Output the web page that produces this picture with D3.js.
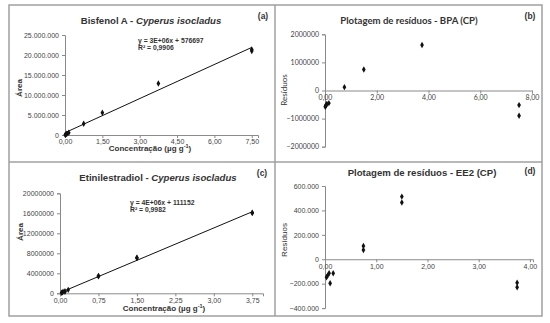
<!DOCTYPE html>
<html>
<head>
<script src="https://d3js.org/d3.v7.min.js"></script>
<style>
  body { margin: 0; background: #fff; }
  text { font-family: "Liberation Sans", Arial, sans-serif; }
  .tick-lbl { font-size: 7px; fill: #444; }
  .calibri { font-family: Lato, "Open Sans", sans-serif; }
</style>
</head>
<body>
<script>
// ---- data ----
var bpaConc  = [0.01, 0.025, 0.05, 0.075, 0.15, 0.75, 1.5, 3.75, 7.5, 7.5];
var bpaArea  = [25000, 98000, 219000, 310000, 553000, 2830000, 5590000, 12860000, 21380000, 21000000];
var bpaResid = [-580000, -550000, -500000, -480000, -450000, 120000, 750000, 1620000, -520000, -900000];
var bpaTrendX = [0, 7.5];
var bpaTrendY = [576697, 21900000];

var ee2Conc  = [0.03, 0.05, 0.08, 0.1, 0.16, 0.75, 0.75, 1.5, 1.5, 3.75, 3.75];
var ee2Area  = [93000, 193000, 342000, 346000, 687000, 3460000, 3427000, 7104000, 7056000, 16119000, 16081000];
var ee2Resid = [-148000, -134000, -115000, -197000, -115000, 109000, 76000, 513000, 465000, -192000, -230000];
var ee2TrendX = [0, 3.75];
var ee2TrendY = [111152, 16310000];

var xTicksA = [0, 1.5, 3, 4.5, 6, 7.5];
var yTicksA = [0, 5e6, 10e6, 15e6, 20e6, 25e6];
var xTicksB = [0, 2, 4, 6, 8];
var yTicksB = [-2e6, -1e6, 0, 1e6, 2e6];
var xTicksC = [0, 0.75, 1.5, 2.25, 3, 3.75];
var yTicksC = [0, 4e6, 8e6, 12e6, 16e6, 20e6];
var xTicksD = [0, 1, 2, 3, 4];
var yTicksD = [-4e5, -2e5, 0, 2e5, 4e5, 6e5];

var svg = d3.select("body").append("svg")
    .attr("width", 550)
    .attr("height", 323);

// panel frame
var frame = svg.append("g").attr("fill", "none").attr("stroke", "#a0a0a0").attr("stroke-width", 1.5);
frame.append("rect").attr("x", 9).attr("y", 5).attr("width", 533).attr("height", 311);
frame.append("line").attr("x1", 275).attr("x2", 275).attr("y1", 5).attr("y2", 316);
frame.append("line").attr("x1", 9).attr("x2", 542).attr("y1", 162).attr("y2", 162);

var comma = function(d) { return d3.format(".2f")(d).replace(".", ","); };
var dotted = function(d) { return d3.format(",")(d).replace(/,/g, "."); };
var plain = function(d) { return d3.format("d")(d); };

function panel(o) {
    var g = svg.append("g");
    var x = d3.scaleLinear().domain(o.xDom).range(o.xRange);
    var y = d3.scaleLinear().domain(o.yDom).range(o.yRange);
    var y0 = o.xAtZero ? y(0) : o.yRange[0];

    // y axis
    var ya = g.append("g")
        .attr("transform", "translate(" + o.xRange[0] + ",0)")
        .call(d3.axisLeft(y).tickValues(o.yTicks).tickFormat(o.yFmt).tickSize(3).tickPadding(3));
    // x axis
    var xa = g.append("g")
        .attr("transform", "translate(0," + y0 + ")")
        .call(d3.axisBottom(x).tickValues(o.xTicks).tickFormat(comma).tickSize(3).tickPadding(1.5));
    [ya, xa].forEach(function(a) {
        a.select(".domain").attr("stroke", "#8a8a8a");
        a.selectAll(".tick line").attr("stroke", "#8a8a8a");
        a.selectAll("text").attr("class", "tick-lbl " + (o.cls || ""));
    });

    if (o.trendX) {
        g.append("path")
            .attr("d", d3.line()(o.trendX.map(function(v, i) { return [x(v), y(o.trendY[i])]; })))
            .attr("stroke", "#111").attr("stroke-width", 1).attr("fill", "none");
    }

    g.selectAll(".pt").data(o.xs).enter().append("path")
        .attr("class", "pt")
        .attr("transform", function(d, i) { return "translate(" + x(d) + "," + y(o.ys[i]) + ")"; })
        .attr("d", d3.symbol().type(d3.symbolDiamond).size(12))
        .attr("fill", "#111");

    // titles
    var t = g.append("text")
        .attr("x", o.title[0]).attr("y", o.title[1])
        .attr("text-anchor", "middle")
        .attr("class", o.cls || "")
        .attr("font-size", 9.6).attr("font-weight", "bold").attr("fill", "#333");
    t.append("tspan").text(o.titleText);
    if (o.titleItalic) t.append("tspan").attr("font-style", "italic").text(o.titleItalic);

    g.append("text")
        .attr("x", o.tag[0]).attr("y", o.tag[1])
        .attr("text-anchor", "middle")
        .attr("font-size", 8.5).attr("font-weight", "bold").attr("fill", "#333")
        .text(o.tagText);

    g.append("text")
        .attr("transform", "translate(" + o.yLab[0] + "," + o.yLab[1] + ") rotate(-90)")
        .attr("text-anchor", "middle")
        .attr("class", o.cls || "")
        .attr("font-size", 8).attr("font-weight", o.xLab ? "bold" : "normal").attr("fill", "#333")
        .text(o.yLabText);

    if (o.xLab) {
        var xl = g.append("text")
            .attr("x", o.xLab[0]).attr("y", o.xLab[1])
            .attr("text-anchor", "middle")
            .attr("font-size", 8).attr("font-weight", "bold").attr("fill", "#333");
        xl.append("tspan").text("Concentração (µg g");
        xl.append("tspan").attr("font-size", 5.5).attr("dy", -3).text("-1");
        xl.append("tspan").attr("dy", 3).text(")");
    }

    if (o.eq) {
        o.eq.forEach(function(line, i) {
            g.append("text")
                .attr("x", o.eqPos[0]).attr("y", o.eqPos[1] + i * 7)
                .attr("font-size", 6.8).attr("font-weight", "bold").attr("fill", "#333")
                .text(line);
        });
    }
}

panel({
    xDom: [0, 7.75], xRange: [65, 258], yDom: [0, 25e6], yRange: [135, 35],
    xTicks: xTicksA, yTicks: yTicksA, yFmt: dotted,
    xs: bpaConc, ys: bpaArea, trendX: bpaTrendX, trendY: bpaTrendY,
    title: [151, 24], titleText: "Bisfenol A - ", titleItalic: "Cyperus isocladus",
    tag: [263, 19], tagText: "(a)",
    yLab: [22, 88], yLabText: "Área",
    xLab: [150, 151],
    eq: ["y = 3E+06x + 576697", "R² = 0,9906"], eqPos: [138, 43]
});

panel({
    xDom: [0, 8], xRange: [325, 532], yDom: [-2e6, 2e6], yRange: [146.7, 34.3], xAtZero: true,
    xTicks: xTicksB, yTicks: yTicksB, yFmt: plain, cls: "calibri",
    xs: bpaConc, ys: bpaResid,
    title: [409, 24], titleText: "Plotagem de resíduos - BPA (CP)",
    tag: [530, 19], tagText: "(b)",
    yLab: [287, 90], yLabText: "Resíduos"
});

panel({
    xDom: [0, 3.96], xRange: [60, 263], yDom: [0, 20e6], yRange: [293.3, 193.3],
    xTicks: xTicksC, yTicks: yTicksC, yFmt: plain,
    xs: ee2Conc, ys: ee2Area, trendX: ee2TrendX, trendY: ee2TrendY,
    title: [158, 181], titleText: "Etinilestradiol  - ", titleItalic: "Cyperus isocladus",
    tag: [262, 176], tagText: "(c)",
    yLab: [23, 232], yLabText: "Área",
    xLab: [164, 311],
    eq: ["y = 4E+06x + 111152", "R² = 0,9982"], eqPos: [130, 205]
});

panel({
    xDom: [0, 4.06], xRange: [325, 533], yDom: [-4e5, 6e5], yRange: [308.1, 186], xAtZero: true,
    xTicks: xTicksD, yTicks: yTicksD, yFmt: dotted,
    xs: ee2Conc, ys: ee2Resid,
    title: [422, 176], titleText: "Plotagem de resíduos - EE2 (CP)",
    tag: [530, 174], tagText: "(d)",
    yLab: [287, 240], yLabText: "Resíduos"
});
</script>
</body>
</html>
